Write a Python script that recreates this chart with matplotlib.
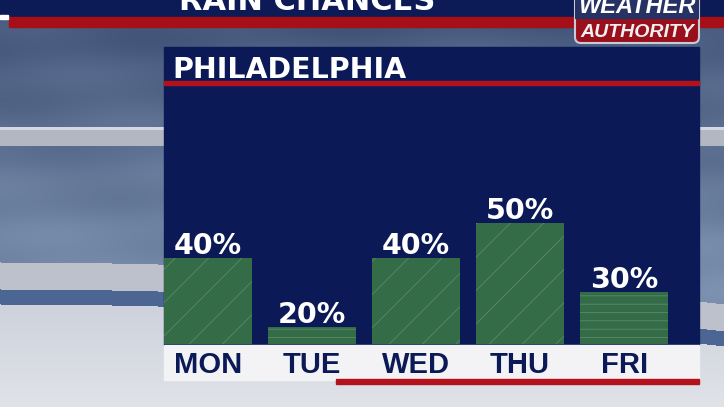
import numpy as np
import matplotlib

matplotlib.use("Agg")
import matplotlib.pyplot as plt
from matplotlib.patches import Rectangle, FancyBboxPatch

days = ["MON", "TUE", "WED", "THU", "FRI"]
rain_chance = [40, 20, 40, 50, 30]
texture = ["/", "-", "/", "/", "-"]   # drops vs streaks in the bar fill

NAVY = "#0b1a56"
RED = "#b3121c"
GREEN = "#346c48"
TEX = "#628f70"
ARIAL = ["Liberation Sans", "DejaVu Sans"]

W, H = 724, 407
fig = plt.figure(figsize=(W / 100, H / 100), dpi=100)

# ---- background (sky + stadium), drawn in pixel coords ----
bg = fig.add_axes([0, 0, 1, 1])
bg.set_axis_off()
yy = np.arange(H)[:, None].astype(float)
xx = np.arange(W)[None, :].astype(float)
t = np.clip((yy - 17) / 260, 0, 1)[..., None]
sky_top = np.array([0.27, 0.34, 0.48])
sky_bot = np.array([0.47, 0.55, 0.67])
img = np.zeros((H, W, 3))
img[:] = sky_top * (1 - t) + sky_bot * t
cloud = 0.025 * np.sin(xx / 53 + yy / 23) * np.sin(yy / 13 - xx / 91)
img += cloud[..., None]

# upper gray rail
img[((yy >= 127) & (yy < 146)) & (xx < W)] = [0.70, 0.72, 0.76]
img[((yy >= 127) & (yy < 130)) & (xx < W)] = [0.84, 0.85, 0.88]

# curved lower rail, blue stripe and floor
y0 = 262 + 42 * (xx / W) ** 2
img[(yy >= y0) & (yy < y0 + 27)] = [0.74, 0.76, 0.80]
img[(yy >= y0 + 27) & (yy < y0 + 42)] = [0.30, 0.40, 0.58]
floor = yy >= y0 + 42
tf = np.clip((yy - 300) / 107, 0, 1)
floor_col = np.stack([0.80 + 0.08 * tf, 0.82 + 0.07 * tf, 0.86 + 0.05 * tf], axis=-1)
floor_col = np.broadcast_to(floor_col, (H, W, 3))
img[floor] = floor_col[floor]
img = np.clip(img, 0, 1)
bg.imshow(img, extent=[0, W, H, 0], aspect="auto", interpolation="bilinear")
bg.set_xlim(0, W)
bg.set_ylim(H, 0)

# ---- top banner ----
bg.add_patch(Rectangle((0, 0), W, 17, color="#0c1a55"))
bg.add_patch(Rectangle((9, 17), W - 9, 10, color="#a70f18"))
bg.add_patch(Rectangle((0, 15), 8, 4, color="white"))
bg.text(307, 10, "RAIN CHANCES", ha="center", va="baseline", color="white",
        fontsize=22, fontweight="bold")

# logo
box = FancyBboxPatch((575, -10), 124, 53, boxstyle="round,pad=0,rounding_size=6",
                     facecolor="#9a0f1c", edgecolor="#c8ccd6", linewidth=1.5)
bg.add_patch(box)
top = Rectangle((575, -10), 124, 28, color="#263263")
bg.add_patch(top)
top.set_clip_path(box)
bg.text(637, 13, "WEATHER", ha="center", va="baseline", color="white",
        fontsize=17, fontweight="bold", style="italic", family=ARIAL)
bg.text(637, 37, "AUTHORITY", ha="center", va="baseline", color="#f0f0f0",
        fontsize=14, fontweight="bold", style="italic", family=ARIAL)

# ---- chart panel ----
bg.add_patch(Rectangle((164, 47), 535, 298, color=NAVY))
bg.text(172, 78, "PHILADELPHIA", ha="left", va="baseline", color="white",
        fontsize=20.5, fontweight="bold")
bg.add_patch(Rectangle((164, 81), 535, 4, color=RED))
bg.add_patch(Rectangle((164, 345), 535, 35, color="#f3f3f5"))
bg.add_patch(Rectangle((336, 379), 363, 5, color=RED))

plt.rcParams["hatch.linewidth"] = 0.5

ax = fig.add_axes([164 / W, 1 - 344 / H, 535 / W, 256 / H])
ax.patch.set_alpha(0)
for s in ax.spines.values():
    s.set_visible(False)

x = np.arange(len(days))
bars = ax.bar(x, rain_chance, width=0.846, color=GREEN, edgecolor=TEX, linewidth=0)
for b, h in zip(bars, texture):
    b.set_hatch(h * 2 if h == "-" else h)

for i, v in enumerate(rain_chance):
    ax.annotate(f"{v}%", (i, v), xytext=(0, 3), textcoords="offset points",
                ha="center", va="baseline", color="white", fontsize=20.5,
                fontweight="bold")

ax.set_xlim(-0.423, 4.72)
ax.set_ylim(15, 89.2)
ax.set_yticks([])
ax.set_xticks(x, days)
ax.tick_params(axis="x", length=0, pad=5)
for lab in ax.get_xticklabels():
    lab.set_fontfamily(ARIAL)
    lab.set_fontweight("bold")
    lab.set_fontsize(21)
    lab.set_color(NAVY)

fig.savefig("out.png", dpi=100)
